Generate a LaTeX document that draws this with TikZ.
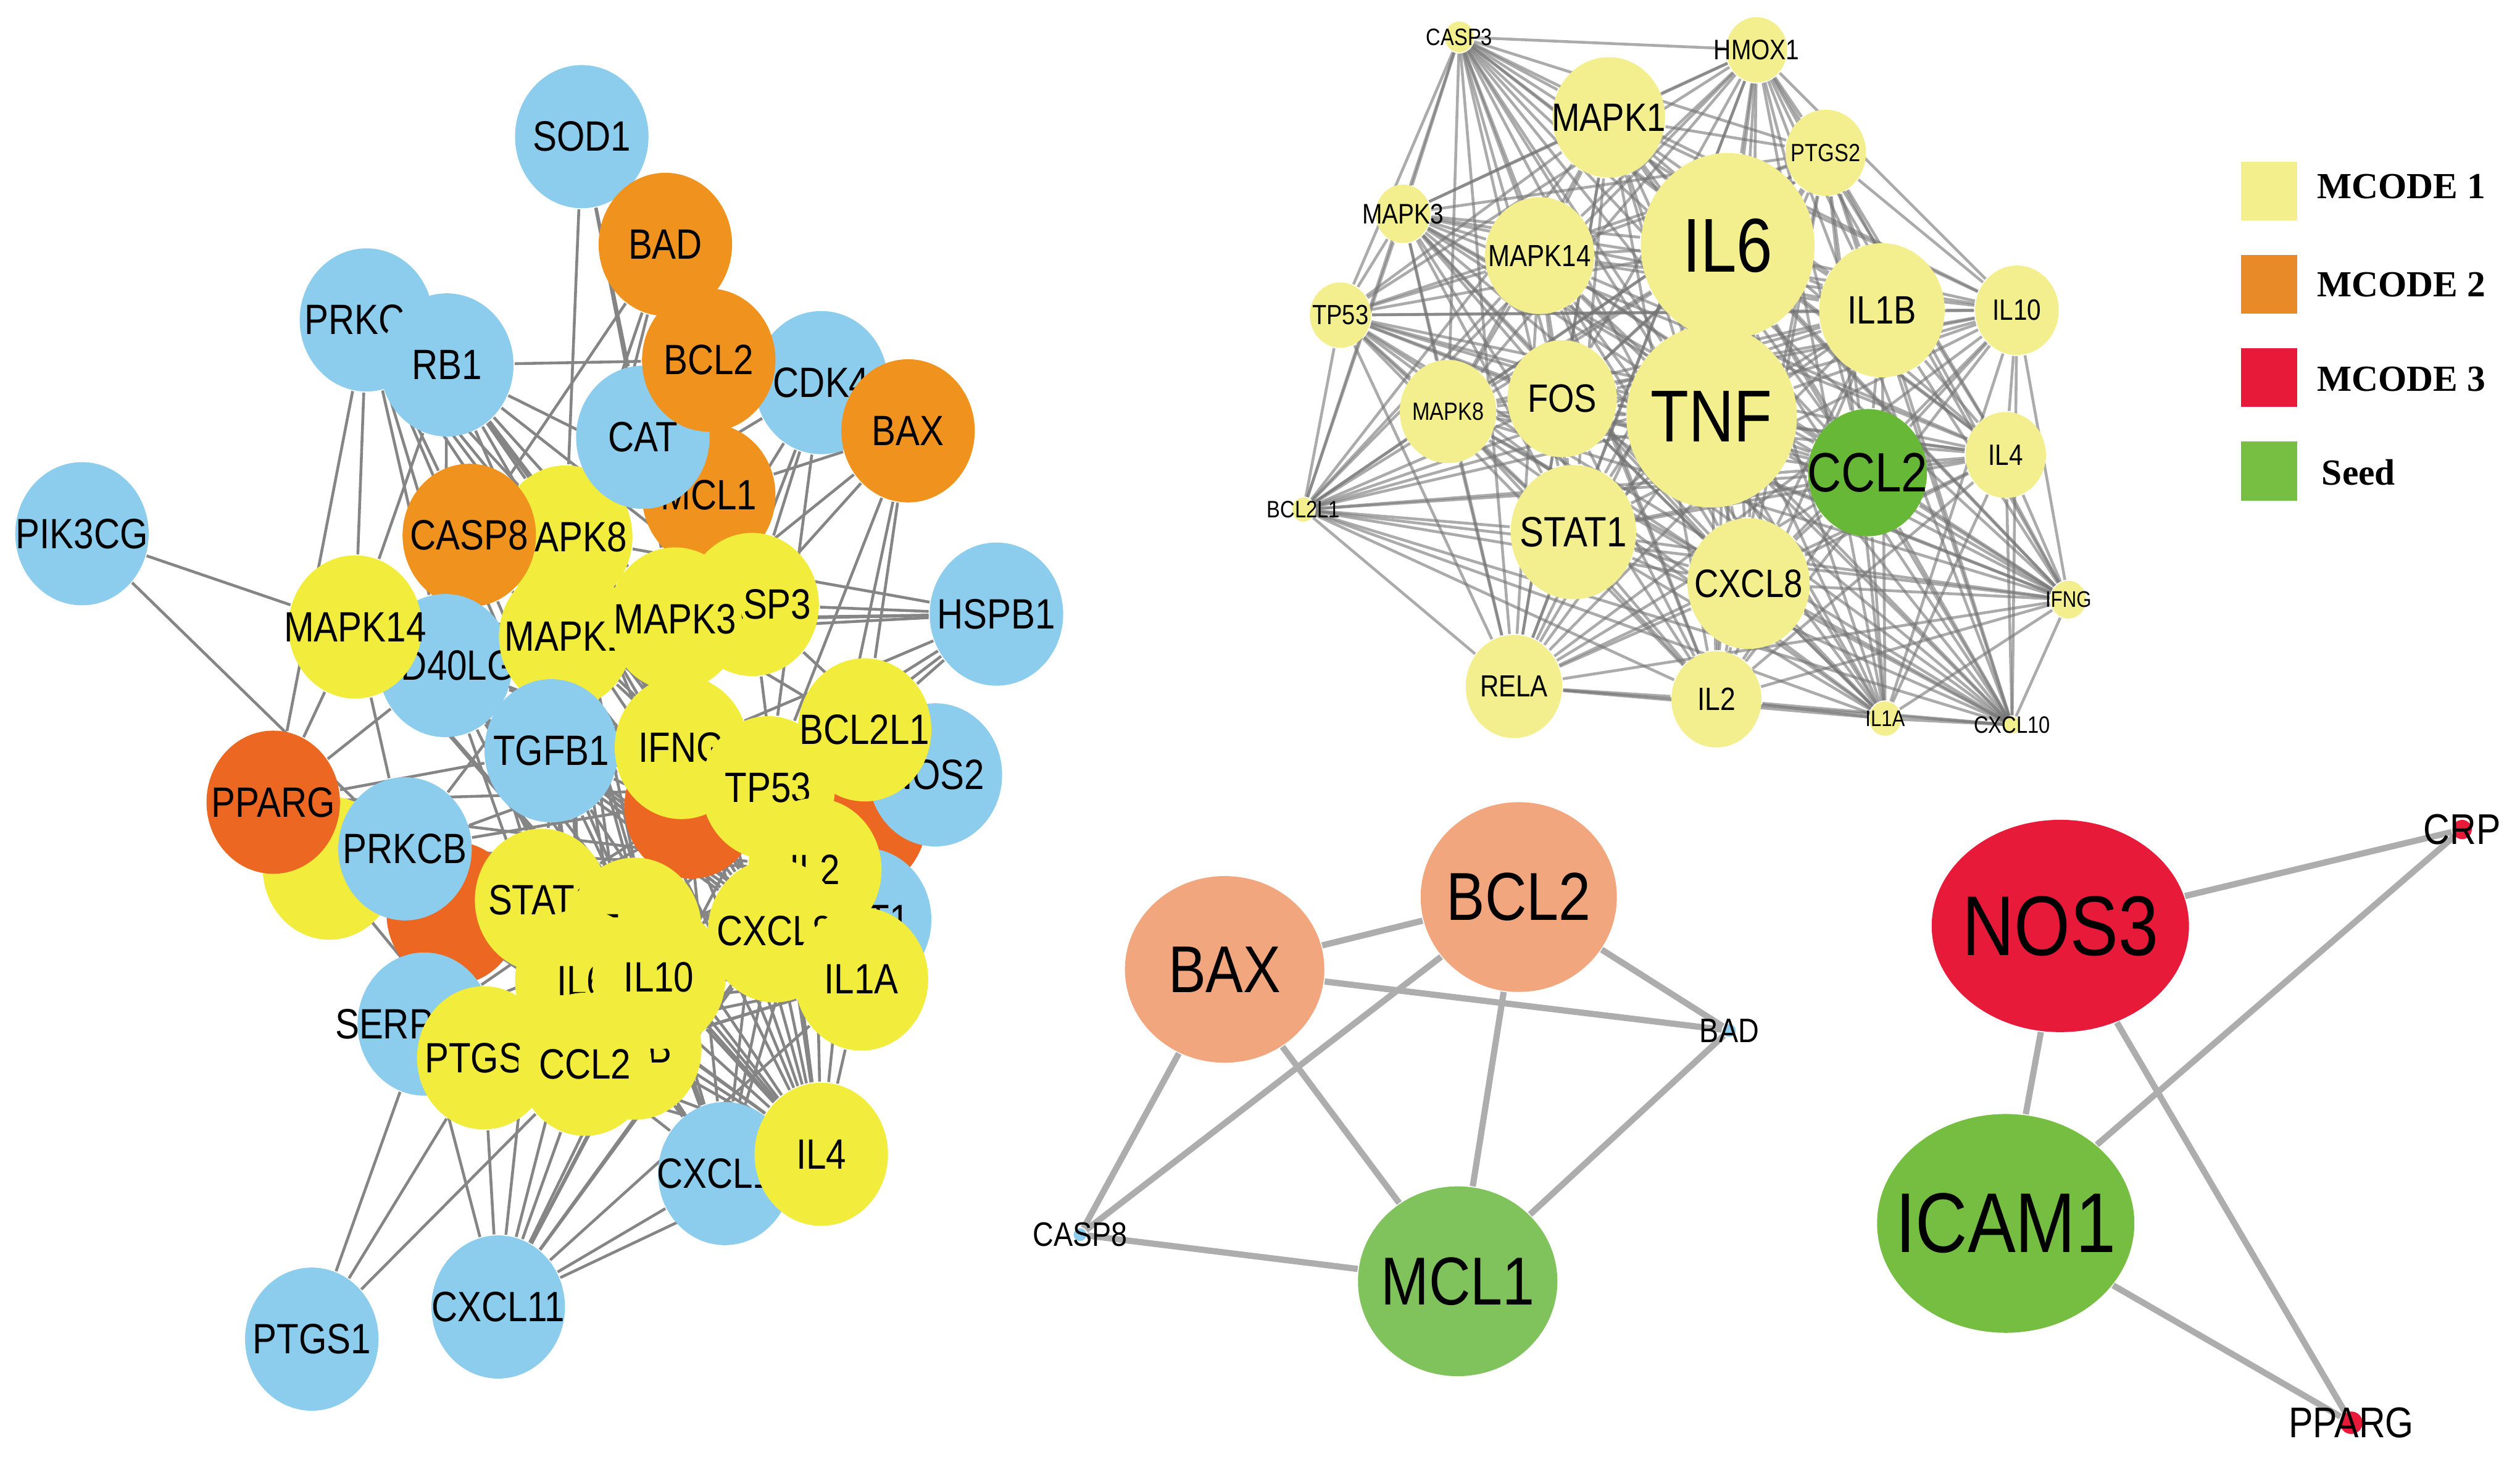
\documentclass[tikz,border=0pt]{standalone}
\usepackage{fontspec}
\setmainfont{Liberation Serif}
\newfontfamily\gfont[FakeStretch=0.85]{Liberation Sans}
\newcommand{\gs}[1]{\gfont\fontsize{#1}{#1}\selectfont}
\usetikzlibrary{shapes.geometric, backgrounds}
\definecolor{lblue}{RGB}{140,204,236}
\definecolor{orng}{RGB}{240,146,30}
\definecolor{ored}{RGB}{236,104,34}
\definecolor{yel}{RGB}{242,236,60}
\definecolor{pyel}{RGB}{244,239,142}
\definecolor{sgreen}{RGB}{104,184,56}
\definecolor{salm}{RGB}{241,166,126}
\definecolor{lgreen}{RGB}{128,194,92}
\definecolor{nred}{RGB}{232,26,58}
\definecolor{igreen}{RGB}{118,190,66}
\definecolor{keyA}{RGB}{243,239,140}
\definecolor{keyB}{RGB}{232,138,40}
\definecolor{keyC}{RGB}{232,26,58}
\definecolor{keyD}{RGB}{118,191,67}
\begin{document}
\begin{tikzpicture}[x=0.01cm, y=-0.01cm,
  gn/.style={ellipse, inner sep=0pt, minimum width=0.83cm, minimum height=0.89cm},
  every label/.style={inner sep=0pt, font=\gs{7.5}},
  ledge/.style={draw=black!48, line width=.5pt},
  mc/.style={ellipse, inner sep=0pt, fill=pyel, minimum width=#1*0.02cm, minimum height=#1*0.0214cm},
  tedge/.style={draw=black!55, line width=.5pt, opacity=.6},
  dot/.style={circle, inner sep=0pt, minimum size=#1},
  bedge/.style={draw=black!32, line width=1.1pt},
  key/.style={inner sep=0pt, minimum width=0.35cm, minimum height=0.365cm},
  keytext/.style={anchor=west, inner sep=0pt, font=\bfseries\fontsize{6.5}{6.5}\selectfont}]
\useasboundingbox (0,0) rectangle (1568,906);

% left network
\node[gn, fill=lblue, label=center:SOD1] (sod1) at (362,85) {};
\node[gn, fill=orng, label=center:BAD] (bad) at (414,152) {};
\node[gn, fill=lblue, label=center:PRKCA] (prkca) at (228,199) {};
\node[gn, fill=lblue, label=center:RB1] (rb1) at (278,227) {};
\node[gn, fill=lblue, label=center:CDK4] (cdk4) at (511,238) {};
\node[gn, fill=orng, label=center:MCL1] (mcl1) at (441,308) {};
\node[gn, fill=yel, label=center:CASP3] (casp3) at (468,376) {};
\node[gn, fill=yel, label=center:MAPK8] (mapk8) at (352,334) {};
\node[gn, fill=lblue, label=center:CAT] (cat) at (400,272) {};
\node[gn, fill=orng, label=center:BCL2] (bcl2) at (441,224) {};
\node[gn, fill=orng, label=center:BAX] (bax) at (565,268) {};
\node[gn, fill=orng, label=center:CASP8] (casp8) at (292,333) {};
\node[gn, fill=lblue, label=center:PIK3CG] (pik3cg) at (51,332) {};
\node[gn, fill=lblue, label=center:CD40LG] (cd40lg) at (277,414) {};
\node[gn, fill=yel, label=center:MAPK14] (mapk14) at (221,390) {};
\node[gn, fill=yel, label=center:MAPK1] (mapk1) at (352,396) {};
\node[gn, fill=yel, label=center:MAPK3] (mapk3) at (420,385) {};
\node[gn, fill=lblue, label=center:HSPB1] (hspb1) at (620,382) {};
\node[gn, fill=ored] (crp) at (535,510) {};
\node[gn, fill=lblue, label=center:NOS2] (nos2) at (582,482) {};
\node[gn, fill=ored] (nos3) at (430,502) {};
\node[gn, fill=lblue, label=center:TGFB1] (tgfb1) at (343,467) {};
\node[gn, fill=yel, label=center:IFNG] (ifng) at (424,465) {};
\node[gn, fill=yel, label=center:TP53] (tp53) at (478,490) {};
\node[gn, fill=yel, label=center:BCL2L1] (bcl2l1) at (538,454) {};
\node[gn, fill=yel] (hmox1) at (205,540) {};
\node[gn, fill=ored, label=center:PPARG] (pparg) at (170,499) {};
\node[gn, fill=ored] (icam1) at (282,568) {};
\node[gn, fill=lblue, label=center:PRKCB] (prkcb) at (252,528) {};
\node[gn, fill=lblue, label=center:AKT1] (akt1) at (538,572) {};
\node[gn, fill=yel, label=center:IL2] (il2) at (507,541) {};
\node[gn, fill=yel, label=center:STAT1] (stat1) at (337,560) {};
\node[gn, fill=yel, label=center:FOS] (fos) at (395,578) {};
\node[gn, fill=yel, label=center:IL6] (il6) at (362,610) {};
\node[gn, fill=yel, label=center:IL1B] (il1b) at (395,652) {};
\node[gn, fill=yel, label=center:IL10] (il10) at (410,608) {};
\node[gn, fill=yel, label=center:CXCL8] (cxcl8) at (482,579) {};
\node[gn, fill=yel, label=center:IL1A] (il1a) at (536,609) {};
\node[gn, fill=lblue, label=center:SERPINE1] (serpine1) at (264,637) {};
\node[gn, fill=yel, label=center:PTGS2] (ptgs2) at (301,658) {};
\node[gn, fill=yel, label=center:CCL2] (ccl2) at (364,662) {};
\node[gn, fill=lblue, label=center:CXCL12] (cxcl12) at (451,730) {};
\node[gn, fill=yel, label=center:IL4] (il4) at (511,718) {};
\node[gn, fill=lblue, label=center:CXCL11] (cxcl11) at (310,813) {};
\node[gn, fill=lblue, label=center:PTGS1] (ptgs1) at (194,833) {};

\begin{scope}[on background layer]
\foreach \a/\b in {sod1/cat, sod1/mapk8, sod1/mapk3, bad/casp8, bad/mapk8, bad/mapk1,
  prkca/mapk14, prkca/cd40lg, prkca/casp8, prkca/pparg, prkca/mapk8, prkca/tgfb1, prkca/stat1,
  prkca/il2, prkca/cxcl8, prkca/il1a,
  rb1/bcl2, rb1/mapk8, rb1/mapk3, rb1/mcl1, rb1/tp53, rb1/mapk1, rb1/cd40lg, rb1/casp3, rb1/mapk14,
  rb1/il2, rb1/cxcl8,
  cdk4/mapk3, cdk4/casp3, cdk4/tp53, cdk4/ifng, cdk4/mapk8,
  bax/casp3, bax/mapk3, bax/tp53, bax/bcl2l1, bax/il2, bax/mcl1, bax/bcl2,
  hspb1/mapk3, hspb1/casp3, hspb1/mapk1, hspb1/mapk14, hspb1/tp53, hspb1/bcl2l1, hspb1/ifng, hspb1/mapk8, hspb1/stat1,
  pik3cg/mapk14, pik3cg/prkcb,
  nos2/tp53, nos2/il2, nos2/ifng, nos2/casp3, nos2/mapk3, nos2/il1a, nos2/cxcl8,
  pparg/mapk14, pparg/tgfb1, pparg/cd40lg, pparg/il6, pparg/cxcl8, pparg/ptgs2, pparg/stat1, pparg/il1b, pparg/tp53,
  pparg/il2, pparg/il1a, pparg/il10,
  prkcb/tp53, prkcb/ifng, prkcb/il2, prkcb/cxcl8, prkcb/mapk1, prkcb/il1a, prkcb/il10,
  mapk14/il1a, mapk14/il10, mapk14/cxcl8, mapk14/tp53, mapk14/tgfb1, mapk14/prkcb, mapk14/il2,
  cd40lg/il2, cd40lg/il10, cd40lg/ccl2, cd40lg/il1b, cd40lg/tp53, cd40lg/ifng, cd40lg/cxcl8, cd40lg/il1a,
  tgfb1/il2, tgfb1/cxcl8, tgfb1/il1a, tgfb1/ccl2, tgfb1/il10, tgfb1/tp53, tgfb1/il6,
  mapk8/il10, mapk8/ccl2, mapk8/il1b, mapk8/cxcl8,
  casp8/il2, casp8/cxcl8, casp8/tp53, casp8/il10,
  mapk1/il2, mapk1/il10, mapk1/il1b, mapk1/ccl2, mapk1/stat1, mapk1/il4,
  mapk3/il4, mapk3/il10, mapk3/il1a,
  serpine1/il1a, serpine1/tp53, serpine1/ccl2, serpine1/il2,
  ptgs1/ptgs2, ptgs1/ccl2, ptgs1/serpine1,
  cxcl11/ptgs2, cxcl11/ccl2, cxcl11/il1b, cxcl11/il10, cxcl11/stat1, cxcl11/il6, cxcl11/cxcl12, cxcl11/il4, cxcl11/serpine1,
  cxcl11/il1a, cxcl11/cxcl8, cxcl11/il2, cxcl11/tp53,
  cxcl12/il10, cxcl12/il1b, cxcl12/cxcl8, cxcl12/il2, cxcl12/tp53, cxcl12/ccl2, cxcl12/ifng,
  cxcl12/stat1, cxcl12/il6, cxcl12/fos, cxcl12/mapk1,
  il4/il10, il4/cxcl8, il4/il1a, il4/tp53, il4/il2, il4/ccl2, il4/stat1, il4/il1b, il4/ifng, il4/il6, il4/ptgs2, il4/fos, il4/bcl2l1,
  il4/tgfb1, il4/mapk14, il4/cd40lg, il4/prkcb, il4/pparg, il4/casp3, il4/mapk8,
  il1a/ptgs2, il1a/ccl2, il1a/stat1, il1a/il6, il1a/fos, il1a/il1b,
  bcl2l1/ptgs2, bcl2l1/il10, bcl2l1/ccl2, bcl2l1/stat1}
  \draw[ledge] (\a) -- (\b);
\end{scope}

% MCODE 1
\node[mc=9, label={[font=\gs{4.2}]center:CASP3}] (t-casp3) at (908,23) {};
\node[mc=19, label={[font=\gs{5}]center:HMOX1}] (t-hmox1) at (1093,31) {};
\node[mc=35, label={[font=\gs{7}]center:MAPK1}] (t-mapk1) at (1001,73) {};
\node[mc=25, label={[font=\gs{4.4}]center:PTGS2}] (t-ptgs2) at (1136,95) {};
\node[mc=17, label={[font=\gs{5}]center:MAPK3}] (t-mapk3) at (873,133) {};
\node[mc=34, label={[font=\gs{5.4}]center:MAPK14}] (t-mapk14) at (958,159) {};
\node[mc=54, label={[font=\gs{13.5}]center:IL6}] (t-il6) at (1075,153) {};
\node[mc=39, label={[font=\gs{7}]center:IL1B}] (t-il1b) at (1171,193) {};
\node[mc=26, label={[font=\gs{5.2}]center:IL10}] (t-il10) at (1255,193) {};
\node[mc=19, label={[font=\gs{4.9}]center:TP53}] (t-tp53) at (834,196) {};
\node[mc=30, label={[font=\gs{4.4}]center:MAPK8}] (t-mapk8) at (901,256) {};
\node[mc=34, label={[font=\gs{7}]center:FOS}] (t-fos) at (972,248) {};
\node[mc=53, label={[font=\gs{13}]center:TNF}] (t-tnf) at (1065,259) {};
\node[mc=37, fill=sgreen, label={[font=\gs{9.8}]center:CCL2}] (t-ccl2) at (1162,294) {};
\node[mc=25, label={[font=\gs{5.2}]center:IL4}] (t-il4) at (1248,283) {};
\node[mc=7, label={[font=\gs{4.2}]center:BCL2L1}] (t-bcl2l1) at (811,317) {};
\node[mc=39, label={[font=\gs{7.5}]center:STAT1}] (t-stat1) at (979,331) {};
\node[mc=38, label={[font=\gs{7}]center:CXCL8}] (t-cxcl8) at (1088,363) {};
\node[mc=11, label={[font=\gs{4}]center:IFNG}] (t-ifng) at (1287,373) {};
\node[mc=30, label={[font=\gs{5.4}]center:RELA}] (t-rela) at (942,427) {};
\node[mc=28, label={[font=\gs{5.7}]center:IL2}] (t-il2) at (1068,435) {};
\node[mc=10, label={[font=\gs{4}]center:IL1A}] (t-il1a) at (1173,447) {};
\node[mc=5, label={[font=\gs{4.2}]center:CXCL10}] (t-cxcl10) at (1252,451) {};

\begin{scope}[on background layer]
\def\tlist{casp3,hmox1,mapk1,ptgs2,mapk3,mapk14,il6,il1b,il10,tp53,mapk8,fos,tnf,ccl2,il4,bcl2l1,stat1,cxcl8,ifng,rela,il2,il1a,cxcl10}
\foreach \a [count=\i] in \tlist
  \foreach \b [count=\j] in \tlist
    {\ifnum\j>\i \draw[tedge] (t-\a) -- (t-\b);\fi}
\end{scope}

% MCODE 2
\node[ellipse, inner sep=0pt, fill=salm, minimum width=1.24cm, minimum height=1.16cm, label={[font=\gs{11.7}]center:BAX}] (b-bax) at (762,603) {};
\node[ellipse, inner sep=0pt, fill=salm, minimum width=1.22cm, minimum height=1.18cm, label={[font=\gs{12}]center:BCL2}] (b-bcl2) at (945,558) {};
\node[ellipse, inner sep=0pt, fill=lgreen, minimum width=1.24cm, minimum height=1.18cm, label={[font=\gs{12}]center:MCL1}] (b-mcl1) at (907,797) {};
\node[dot=0.08cm, fill=lblue, label={[font=\gs{6}]center:BAD}] (b-bad) at (1076,641) {};
\node[dot=0.08cm, fill=lblue, label={[font=\gs{6}]center:CASP8}] (b-casp8) at (672,768) {};
\begin{scope}[on background layer]
\foreach \a/\b in {bax/bcl2, bax/bad, bcl2/bad, bax/casp8, bax/mcl1, bcl2/casp8, bcl2/mcl1, casp8/mcl1, bad/mcl1}
  \draw[bedge] (b-\a) -- (b-\b);
\end{scope}

% MCODE 3
\node[ellipse, inner sep=0pt, fill=nred, minimum width=1.6cm, minimum height=1.32cm, label={[font=\gs{15}]center:NOS3}] (r-nos3) at (1282,576) {};
\node[ellipse, inner sep=0pt, fill=igreen, minimum width=1.6cm, minimum height=1.36cm, label={[font=\gs{15}]center:ICAM1}] (r-icam1) at (1248,761) {};
\node[dot=0.12cm, fill=nred, label={[font=\gs{7.6}]center:CRP}] (r-crp) at (1532,516) {};
\node[dot=0.14cm, fill=nred, label={[font=\gs{7.6}]center:PPARG}] (r-pparg) at (1463,885) {};
\begin{scope}[on background layer]
\foreach \a/\b in {nos3/crp, icam1/crp, nos3/icam1, nos3/pparg, icam1/pparg}
  \draw[bedge] (r-\a) -- (r-\b);
\end{scope}

% legend
\node[key, fill=keyA] (key1) at (1412,119) {};
\node[key, fill=keyB] (key2) at (1412,177) {};
\node[key, fill=keyC] (key3) at (1412,235) {};
\node[key, fill=keyD] (key4) at (1412,293) {};
\node[keytext] (key1t) at (1441,116) {MCODE 1};
\node[keytext] (key2t) at (1441,177) {MCODE 2};
\node[keytext] (key3t) at (1441,236) {MCODE 3};
\node[keytext] (key4t) at (1444,294) {Seed};
\end{tikzpicture}
\end{document}
